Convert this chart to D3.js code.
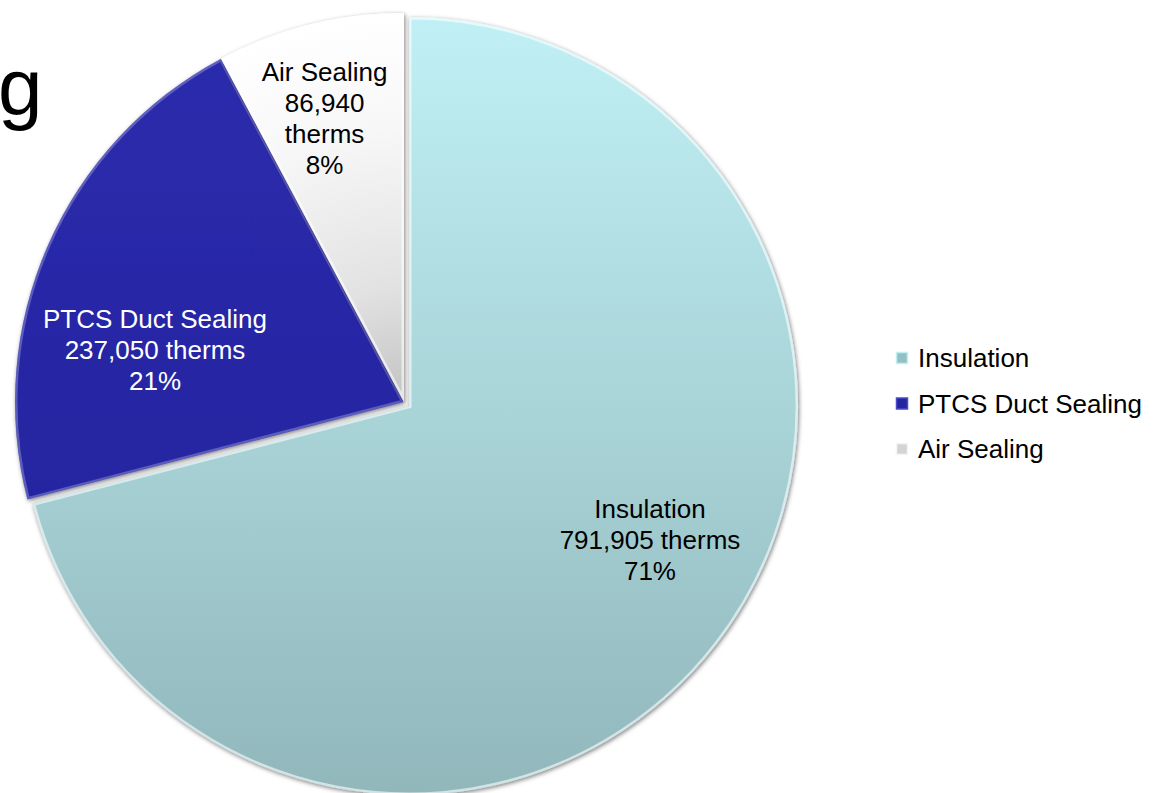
<!DOCTYPE html>
<html>
<head>
<meta charset="utf-8">
<script src="https://cdn.jsdelivr.net/npm/d3@7"></script>
<style>
  html, body { margin: 0; padding: 0; background: #fff; }
  .chart-wrapper { width: 1167px; height: 793px; overflow: hidden; }
  text { font-family: "Liberation Sans", Arial, sans-serif; }
</style>
</head>
<body>
<div class="chart-wrapper"></div>
<script>
// data
const categories = ['Insulation', 'PTCS Duct Sealing', 'Air Sealing']
const therms = [791905, 237050, 86940]
const units = 'therms'

// label layout (Excel "best fit" places them a bit off the bisector)
const labelRadius = [0.709, 0.654, 0.758]
const labelShift = [-8.6, -11.9, -1.6]   // degrees
const explode = [6.4, 0, 0]
// Air Sealing label wraps onto more lines
const labelWrap = [false, false, true]

const width = 1167
const height = 793
const radius = 389
const cx = 404, cy = 402

const fontSize = 26
const lineH = 31

let svg = d3.select('.chart-wrapper').append('svg')
    .attr('width', width)
    .attr('height', height)

let defs = svg.append('defs')

// soft shadow round the slices
let f = defs.append('filter').attr('id', 'shadow')
    .attr('x', '-10%').attr('y', '-10%').attr('width', '120%').attr('height', '120%')
f.append('feDropShadow')
    .attr('dx', 1).attr('dy', 1.5)
    .attr('stdDeviation', 2.2)
    .attr('flood-color', '#000')
    .attr('flood-opacity', 0.5)

// slice gradients
let gIns = defs.append('linearGradient').attr('id', 'grad0')
    .attr('gradientUnits', 'userSpaceOnUse')
    .attr('x1', 0).attr('y1', -radius).attr('x2', 0).attr('y2', radius)
gIns.append('stop').attr('offset', '0%').attr('stop-color', '#c0f0f5')
gIns.append('stop').attr('offset', '50%').attr('stop-color', '#a9d4d8')
gIns.append('stop').attr('offset', '100%').attr('stop-color', '#91b7bb')

let gPtcs = defs.append('linearGradient').attr('id', 'grad1')
    .attr('gradientUnits', 'userSpaceOnUse')
    .attr('x1', 0).attr('y1', -radius).attr('x2', 0).attr('y2', radius)
gPtcs.append('stop').attr('offset', '0%').attr('stop-color', '#2c2cae')
gPtcs.append('stop').attr('offset', '100%').attr('stop-color', '#20209a')

let gAir = defs.append('radialGradient').attr('id', 'grad2')
    .attr('gradientUnits', 'userSpaceOnUse')
    .attr('cx', 0).attr('cy', 0).attr('r', radius)
gAir.append('stop').attr('offset', '0%').attr('stop-color', '#c2c2c2')
gAir.append('stop').attr('offset', '30%').attr('stop-color', '#e2e2e2')
gAir.append('stop').attr('offset', '70%').attr('stop-color', '#f7f7f7')
gAir.append('stop').attr('offset', '100%').attr('stop-color', '#ffffff')

const labelColors = ['#000', '#fff', '#000']
const legendColors = ['#93c0c4', '#24249c', '#d4d4d4']
const legendEdge = ['#c4eef2', '#4a4ad0', '#f6f6f6']

// cut-off title letter at the left edge of the slide
svg.append('text')
    .attr('x', -2)
    .attr('y', 114)
    .style('font-size', '80px')
    .style('fill', '#000')
    .text('g')

let chart = svg.append('g')
    .attr('transform', `translate(${cx}, ${cy})`)

let pie = d3.pie().sort(null).value(d => d)
let arcs = pie(therms)
let total = d3.sum(therms)

let arc = d3.arc().innerRadius(0).outerRadius(radius)

let midAngle = d => d.startAngle + (d.endAngle - d.startAngle) / 2
let offset = (d, i) => {
    let a = midAngle(d)
    return [Math.sin(a) * explode[i], -Math.cos(a) * explode[i]]
}

let slices = chart.append('g').attr('class', 'slices')
    .selectAll('g')
    .data(arcs)
    .enter()
    .append('g')
    .attr('transform', (d, i) => `translate(${offset(d, i)})`)

slices.append('clipPath')
    .attr('id', (d, i) => 'clip' + i)
    .append('path')
    .attr('d', arc)

slices.append('path')
    .attr('d', arc)
    .attr('fill', (d, i) => `url(#grad${i})`)
    .attr('filter', 'url(#shadow)')

// bevel: light inner rim
slices.append('path')
    .attr('d', arc)
    .attr('fill', 'none')
    .attr('stroke', '#fff')
    .attr('stroke-opacity', (d, i) => i == 1 ? 0.25 : 0.6)
    .attr('stroke-width', 5)
    .attr('clip-path', (d, i) => `url(#clip${i})`)

// data labels
let fmt = d3.format(',')
let pct = d3.format('.0%')
let labels = slices.append('text')
    .attr('text-anchor', 'middle')
    .style('font-size', fontSize + 'px')
    .style('fill', (d, i) => labelColors[i])
    .attr('transform', (d, i) => {
        let a = midAngle(d) + labelShift[i] * Math.PI / 180
        let r = labelRadius[i] * radius
        return `translate(${Math.sin(a) * r}, ${-Math.cos(a) * r})`
    })

labels.each(function(d, i) {
    let lines = labelWrap[i]
        ? [categories[i], fmt(d.data), units, pct(d.data / total)]
        : [categories[i], fmt(d.data) + ' ' + units, pct(d.data / total)]
    let t = d3.select(this)
    let top = -(lines.length - 1) * lineH / 2
    lines.forEach((s, k) => {
        t.append('tspan')
            .attr('x', 0)
            .attr('y', top + k * lineH)
            .attr('dy', '0.35em')
            .text(s)
    })
})

// legend
let legend = svg.append('g').attr('class', 'legend')
    .attr('transform', 'translate(896, 358)')

let rows = legend.selectAll('g')
    .data(categories)
    .enter()
    .append('g')
    .attr('transform', (d, i) => `translate(0, ${i * 45.5})`)

rows.append('rect')
    .attr('x', 0.5).attr('y', -5.5)
    .attr('width', 11).attr('height', 11)
    .attr('fill', (d, i) => legendColors[i])
    .attr('stroke', (d, i) => legendEdge[i])
    .attr('stroke-width', 1.5)

rows.append('text')
    .attr('x', 22)
    .attr('y', 0)
    .attr('dy', '0.35em')
    .style('font-size', fontSize + 'px')
    .style('fill', '#000')
    .text(d => d)
</script>
</body>
</html>
